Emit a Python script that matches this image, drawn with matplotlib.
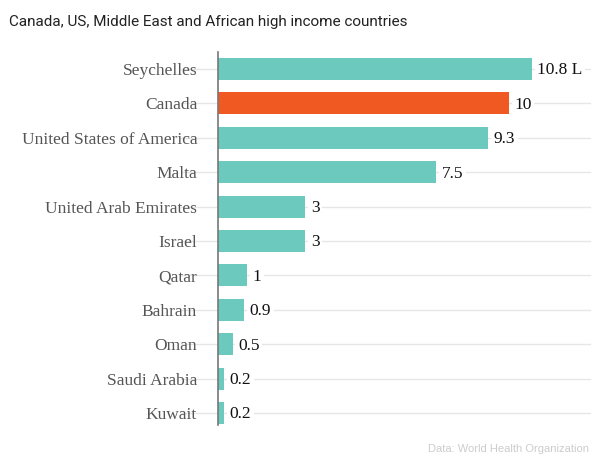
import matplotlib.pyplot as plt

countries = ["Seychelles", "Canada", "United States of America", "Malta",
             "United Arab Emirates", "Israel", "Qatar", "Bahrain", "Oman",
             "Saudi Arabia", "Kuwait"]
values = [10.8, 10, 9.3, 7.5, 3, 3, 1, 0.9, 0.5, 0.2, 0.2]
value_labels = ["10.8 L", "10", "9.3", "7.5", "3", "3", "1", "0.9", "0.5", "0.2", "0.2"]
highlight = "Canada"

teal = "#6cc9be"
orange = "#f05a22"

fig = plt.figure(figsize=(6, 4.65), dpi=100)
ax = fig.add_axes([0.3633, 0.086, 0.62, 0.802])

ypos = list(range(len(countries)))
colors = [orange if c == highlight else teal for c in countries]

# grid lines run a bit to the left of the axis, under the labels
for y in ypos:
    ax.axhline(y, xmin=-0.10, xmax=1.0, color="#e6e6e6", lw=1, zorder=0, clip_on=False)

bars = ax.barh(ypos, values, height=0.64, color=colors, zorder=2)

for bar, lab in zip(bars, value_labels):
    ax.annotate(lab, xy=(bar.get_width(), bar.get_y() + bar.get_height() / 2),
                xytext=(4, -1), textcoords="offset points", va="center", ha="left",
                fontsize=12.5, family="Liberation Serif", color="#111111",
                bbox=dict(boxstyle="square,pad=0.15", fc="white", ec="none"), zorder=3)

ax.set_xlim(0, 12.8)
ax.set_ylim(10.35, -0.49)
ax.set_yticks(ypos)
ax.set_yticklabels(countries, family="Liberation Serif", fontsize=12.5, color="#555555")
ax.tick_params(axis="y", length=0, pad=15)
ax.set_xticks([])
for side in ["top", "right", "bottom"]:
    ax.spines[side].set_visible(False)
ax.spines["left"].set_color("#777777")
ax.spines["left"].set_linewidth(1.2)

fig.text(0.015, 0.952, "Canada, US, Middle East and African high income countries",
         fontsize=11, family="Roboto",
         color="#222222", va="center", ha="left")
fig.text(0.982, 0.035, "Data: World Health Organization", fontsize=8,
         family="Liberation Sans", color="#cccccc", ha="right", va="center")

fig.savefig("out.png", dpi=100)
